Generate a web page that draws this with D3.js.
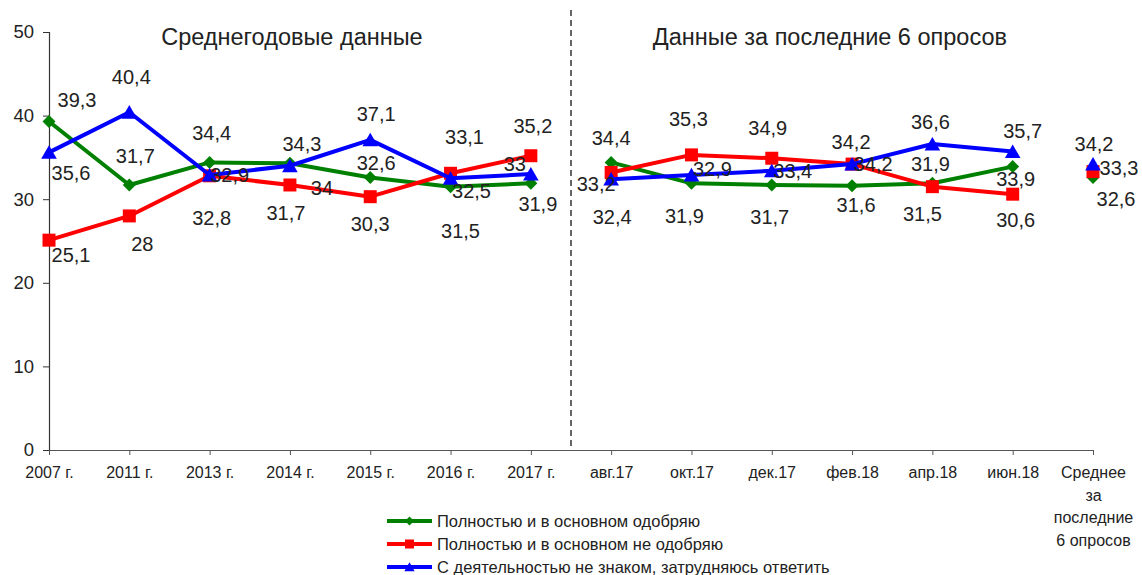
<!DOCTYPE html>
<html><head><meta charset="utf-8">
<script src="https://cdn.jsdelivr.net/npm/d3@7"></script>
<style>
body{margin:0;background:#fff}
text{font-family:Arial,"Liberation Sans",sans-serif;fill:#222}
</style>
</head><body>
<svg id="c" width="1142" height="575"></svg>
<script>
// ---- data ----
const categories = ["2007 г.","2011 г.","2013 г.","2014 г.","2015 г.","2016 г.","2017 г.","авг.17","окт.17","дек.17","фев.18","апр.18","июн.18","Среднее за последние 6 опросов"];
const approve    = [39.3,31.7,34.4,34.3,32.6,31.5,31.9,34.4,31.9,31.7,31.6,31.9,33.9,32.6];
const disapprove = [25.1,28,32.8,31.7,30.3,33.1,35.2,33.2,35.3,34.9,34.2,31.5,30.6,33.3];
const unknown    = [35.6,40.4,32.9,34,37.1,32.5,33,32.4,32.9,33.4,34.2,36.6,35.7,34.2];
const seriesNames = ["Полностью и в основном одобряю","Полностью и в основном не одобряю","С деятельностью не знаком, затрудняюсь ответить"];
const yTicks = [0,10,20,30,40,50];
const panelTitles = ["Среднегодовые данные","Данные за последние 6 опросов"];
const segments = [[0,6],[7,12],[13,13]];
const lastCatLines = ["Среднее","за","последние","6 опросов"];

// ---- label placement (style, offsets from point in px) ----
const offApprove = [[28,-22],[6,-29],[2,-30],[12,-19],[6,-15],[10,44],[7,20],[0,-25],[-7,32],[-2,32],[4,19],[-2,-20],[3,12],[23,21]];
const offDisapprove = [[22,15],[13,28],[2,42],[-4,28],[0,27],[14,-36],[2,-30],[-15,11],[-3,-36],[-4,-30],[-1,-22],[-10,27],[3,26],[26,-4]];
const offUnknown = [[22,20],[2,-35],[20,0],[32,22],[6,-26],[21,12],[-16,-10],[1,38],[21,-6],[21,0],[21,0],[-2,-22],[10,-21],[1,-20]];

const svg = d3.select("#c");
const x = d3.scalePoint().domain(categories).range([49, 1093]).padding(0);
const y = d3.scaleLinear().domain([0, 50]).range([450, 32]);

const fmt = v => String(v).replace(".", ",");

// y axis
const yAxis = svg.append("g").attr("transform","translate(49,0)")
  .call(d3.axisLeft(y).tickValues(yTicks).tickSize(6).tickPadding(9));
yAxis.select(".domain").attr("stroke","#333").attr("stroke-width",1.2);
yAxis.selectAll(".tick line").attr("stroke","#333");
yAxis.selectAll("text").style("font-size","18.5px").attr("fill","#222");

// x axis
const xAxis = svg.append("g").attr("transform","translate(0,450)")
  .call(d3.axisBottom(x).tickSize(5).tickSizeOuter(0).tickFormat(""));
xAxis.select(".domain").attr("stroke","#555").attr("stroke-width",1.2);
xAxis.selectAll(".tick line").attr("stroke","#555");
xAxis.selectAll(".tick").each(function(d, i){
  const g = d3.select(this);
  const lines = i === categories.length - 1 ? lastCatLines : [d];
  const t = g.append("text").attr("text-anchor","middle").style("font-size","16px").attr("fill","#222");
  lines.forEach((l, k) => t.append("tspan").attr("x", 0).attr("y", 28 + k*22.5).text(l));
});

// separator
const sepX = (x(categories[6]) + x(categories[7])) / 2;
svg.append("line").attr("x1",sepX).attr("x2",sepX).attr("y1",10).attr("y2",450)
  .attr("stroke","#333").attr("stroke-width",1.5).attr("stroke-dasharray","6,4");

// titles
svg.append("text").attr("x",(x(categories[0])+x(categories[6]))/2 + 2).attr("y",45)
  .attr("text-anchor","middle").style("font-size","23.5px").text(panelTitles[0]);
svg.append("text").attr("x",(x(categories[7])+x(categories[12]))/2 + 18).attr("y",45)
  .attr("text-anchor","middle").style("font-size","23.5px").text(panelTitles[1]);

// marker shapes
const shapes = {
  diamond: r => `M0,${-r}L${r},0L0,${r}L${-r},0Z`,
  square:  r => `M${-r},${-r}H${r}V${r}H${-r}Z`,
  triangle:r => `M0,${-r*1.05}L${r*1.15},${r*0.95}L${-r*1.15},${r*0.95}Z`
};

const series = [
  {name:seriesNames[0], values:approve, color:"#008000", shape:"diamond", r:6.5, off:offApprove},
  {name:seriesNames[1], values:disapprove, color:"#ff0000", shape:"square", r:6.5, off:offDisapprove},
  {name:seriesNames[2], values:unknown, color:"#0000ff", shape:"triangle", r:6.8, off:offUnknown}
];

const line = d3.line().x(d => x(d.c)).y(d => y(d.v));

series.forEach(s => {
  const pts = s.values.map((v, i) => ({c: categories[i], v, i}));
  const g = svg.append("g");
  segments.forEach(([a, b]) => {
    if (b > a) g.append("path").attr("d", line(pts.slice(a, b+1)))
      .attr("fill","none").attr("stroke",s.color).attr("stroke-width",4).attr("stroke-linejoin","round");
  });
  g.selectAll("path.m").data(pts).enter().append("path").attr("class","m")
    .attr("d", shapes[s.shape](s.r))
    .attr("transform", d => `translate(${x(d.c)},${y(d.v)})`)
    .attr("fill", s.color);
});

// data labels (after all series so they stay on top)
series.forEach(s => {
  svg.append("g").selectAll("text").data(s.values).enter().append("text")
    .attr("x", (v, i) => x(categories[i]) + s.off[i][0])
    .attr("y", (v, i) => y(v) + s.off[i][1])
    .attr("dy","0.36em").attr("text-anchor","middle")
    .style("font-size","20px").text(v => fmt(v));
});

// legend
const lg = svg.append("g").attr("transform","translate(387,521)");
series.forEach((s, k) => {
  const r = lg.append("g").attr("transform", `translate(0,${k*23})`);
  r.append("line").attr("x1",0).attr("x2",45).attr("stroke",s.color).attr("stroke-width",4);
  r.append("path").attr("d", shapes[s.shape](4.5)).attr("transform","translate(22.5,0)").attr("fill",s.color);
  r.append("text").attr("x",50).attr("dy","0.36em").style("font-size","16.5px").text(s.name);
});
</script>
</body></html>
